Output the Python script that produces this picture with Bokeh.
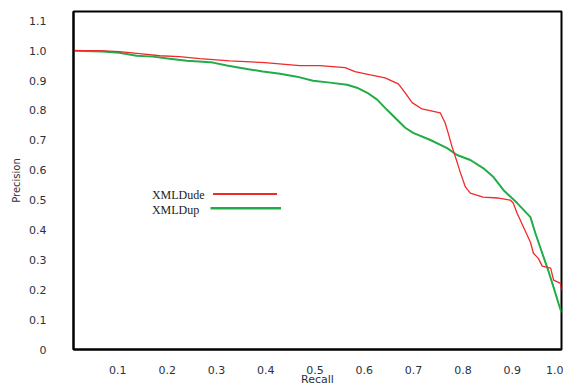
from bokeh.plotting import figure
from bokeh.models import FixedTicker, Range1d
from bokeh.core.properties import value
from bokeh.embed import file_html
from bokeh.resources import INLINE

# XMLDude (red) precision-recall curve
dude_recall = [0.01, 0.063, 0.103, 0.144, 0.185, 0.225, 0.266, 0.327, 0.398, 0.469, 0.510,
               0.561, 0.581, 0.612, 0.642, 0.669, 0.683, 0.697, 0.717, 0.754, 0.764, 0.770,
               0.778, 0.788, 0.795, 0.805, 0.815, 0.841, 0.870, 0.896, 0.902, 0.910, 0.923,
               0.937, 0.943, 0.953, 0.961, 0.978, 0.984, 0.998, 1.0]
dude_precision = [1.0, 1.0, 0.997, 0.990, 0.983, 0.980, 0.973, 0.966, 0.960, 0.950, 0.950,
                  0.943, 0.930, 0.919, 0.909, 0.889, 0.859, 0.826, 0.805, 0.792, 0.758, 0.725,
                  0.678, 0.628, 0.591, 0.544, 0.523, 0.510, 0.507, 0.500, 0.490, 0.456, 0.409,
                  0.359, 0.322, 0.305, 0.279, 0.272, 0.232, 0.221, 0.198]

# XMLDup (green) precision-recall curve
dup_recall = [0.01, 0.069, 0.103, 0.138, 0.171, 0.205, 0.240, 0.272, 0.293, 0.321, 0.347,
              0.394, 0.429, 0.463, 0.496, 0.530, 0.565, 0.585, 0.606, 0.626, 0.646, 0.667,
              0.683, 0.699, 0.734, 0.768, 0.788, 0.815, 0.841, 0.862, 0.882, 0.910, 0.937,
              0.947, 0.961, 0.973, 0.984, 0.994, 1.0]
dup_precision = [1.0, 0.997, 0.993, 0.983, 0.980, 0.973, 0.966, 0.963, 0.960, 0.950, 0.943,
                 0.930, 0.923, 0.913, 0.899, 0.893, 0.886, 0.876, 0.859, 0.836, 0.802, 0.768,
                 0.742, 0.725, 0.701, 0.674, 0.651, 0.634, 0.607, 0.577, 0.534, 0.490, 0.443,
                 0.389, 0.322, 0.265, 0.208, 0.154, 0.124]

x_ticks = [0.1, 0.2, 0.3, 0.4, 0.5, 0.6, 0.7, 0.8, 0.9, 1.0]
x_tick_labels = ["0.1", "0.2", "0.3", "0.4", "0.5", "0.6", "0.7", "0.8", "0.9", "1.0"]
y_ticks = [0.0, 0.1, 0.2, 0.3, 0.4, 0.5, 0.6, 0.7, 0.8, 0.9, 1.0, 1.1]
y_tick_labels = ["0", "0.1", "0.2", "0.3", "0.4", "0.5", "0.6", "0.7", "0.8", "0.9", "1.0", "1.1"]

series_names = ["XMLDude", "XMLDup"]
series_colors = ["#ee2a2a", "#22ac48"]

# legend placement (data coordinates)
legend_text_x = 0.169
legend_text_y = [0.517, 0.466]
legend_line_x0 = [0.293, 0.288]
legend_line_x1 = [0.423, 0.431]
legend_line_y = [0.520, 0.473]

p = figure(width=563, height=388, output_backend="svg", toolbar_location=None,
           x_range=Range1d(0.01, 1.0), y_range=Range1d(0.0, 1.131),
           min_border_left=73, min_border_right=2, min_border_top=11, min_border_bottom=39)

p.grid.visible = False
p.outline_line_color = "black"
p.outline_line_width = 2
p.background_fill_color = "white"
p.border_fill_color = "white"

for ax in (p.xaxis[0], p.yaxis[0]):
    ax.axis_line_color = "black"
    ax.axis_line_width = 2
    ax.major_tick_line_color = None
    ax.minor_tick_line_color = None
    ax.major_label_text_font = "DejaVu Sans"
    ax.major_label_text_font_size = "11px"
    ax.major_label_text_color = "#2a3240"
    ax.axis_label_text_font = "DejaVu Sans"
    ax.axis_label_text_font_style = "normal"
    ax.axis_label_text_color = "#2a3240"

p.xaxis.ticker = FixedTicker(ticks=x_ticks)
p.xaxis.major_label_overrides = {t: l for t, l in zip(x_ticks, x_tick_labels)}
p.xaxis.major_label_standoff = 10
p.xaxis.axis_label = "Recall"
p.xaxis.axis_label_text_font_size = "11px"
p.xaxis.axis_label_standoff = -4

p.yaxis.ticker = FixedTicker(ticks=y_ticks)
p.yaxis.major_label_overrides = {t: l for t, l in zip(y_ticks, y_tick_labels)}
p.yaxis.major_label_standoff = 21
p.yaxis.axis_label = "Precision"
p.yaxis.axis_label_text_font_size = "10px"
p.yaxis.axis_label_standoff = 4

p.line(dup_recall, dup_precision, line_color=series_colors[1], line_width=2.0)
p.line(dude_recall, dude_precision, line_color=series_colors[0], line_width=1.3)

p.text(x=[legend_text_x, legend_text_x], y=legend_text_y, text=series_names,
       text_font=value("Liberation Serif"), text_font_size="12px",
       text_color="#222222", text_baseline="middle", text_align="left")
p.segment(x0=legend_line_x0, y0=legend_line_y, x1=legend_line_x1, y1=legend_line_y,
          line_color=series_colors, line_width=[2, 2.5])

open("out.html", "w").write(file_html(p, INLINE))
